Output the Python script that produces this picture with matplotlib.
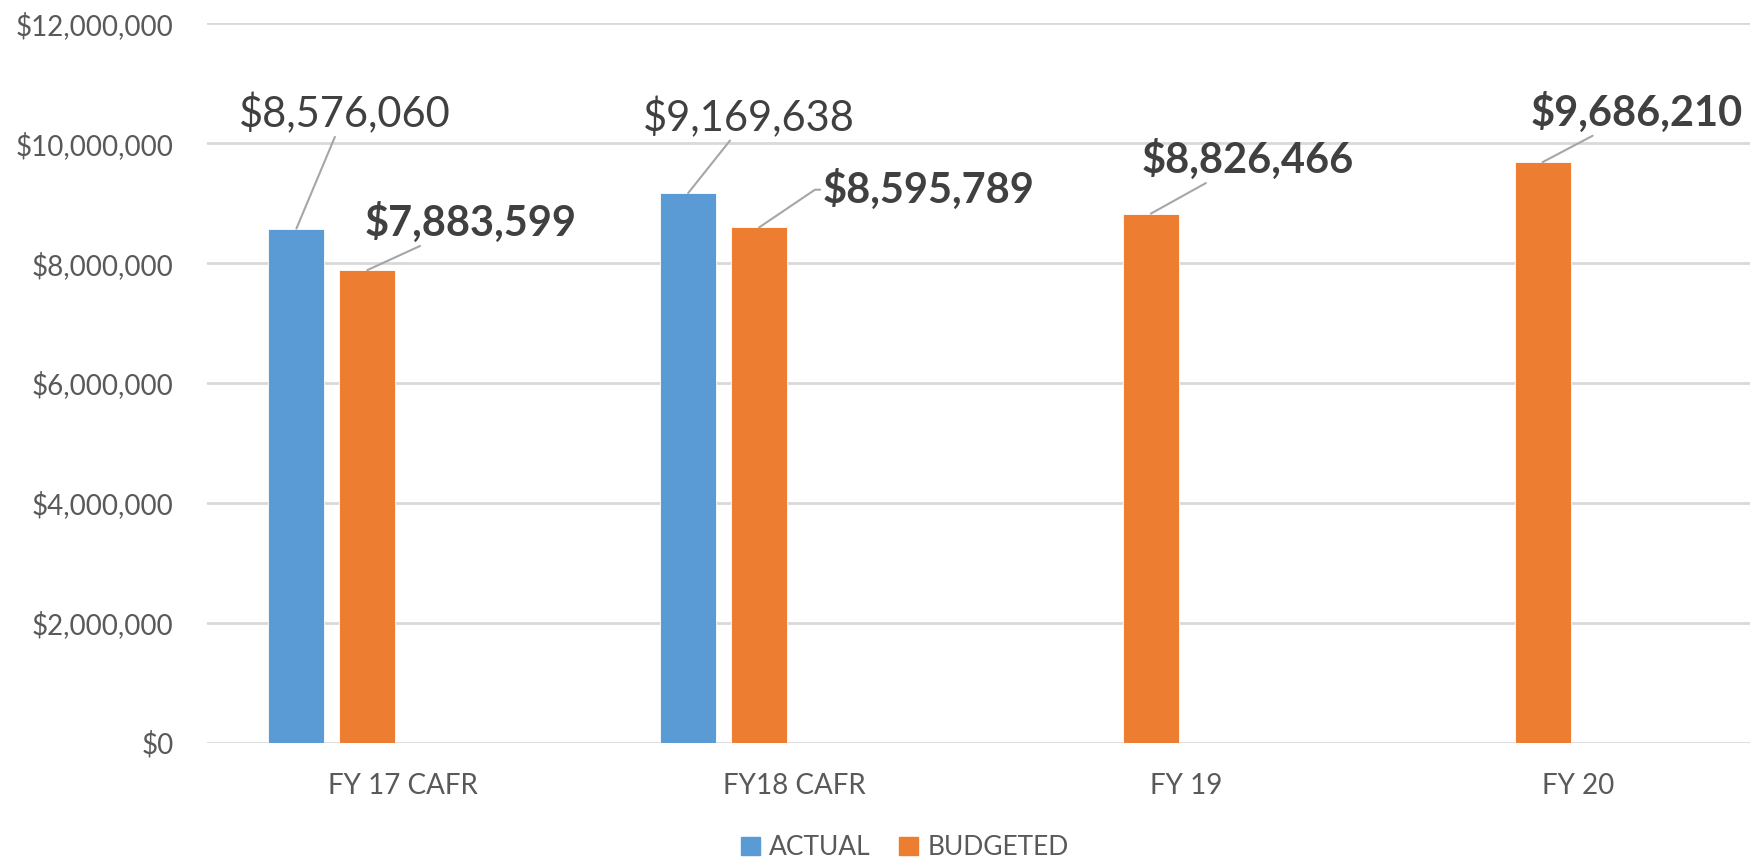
import matplotlib.pyplot as plt
from matplotlib.patches import Patch
from matplotlib.ticker import FuncFormatter, MultipleLocator

categories = ["FY 17 CAFR", "FY18 CAFR", "FY 19", "FY 20"]
actual = [8576060, 9169638, None, None]
budgeted = [7883599, 8595789, 8826466, 9686210]

# label placement (text centre x in category units, baseline y in dollars)
actual_label_pos = [(-0.148, 10.27e6), (0.883, 10.21e6)]
budget_label_pos = [(0.174, 8.45e6), (1.343, 9.00e6), (2.157, 9.50e6), (3.150, 10.29e6)]

blue = "#5B9BD5"
orange = "#ED7D31"
label_col = "#404040"
tick_col = "#595959"

plt.rcParams['font.family'] = ['Lato', 'DejaVu Sans']

fig = plt.figure(figsize=(17.5, 8.57), dpi=100)
ax = fig.add_axes([0.1182, 0.1336, 0.8955, 0.8390])

slot = 0.181
width = 0.143
x = list(range(len(categories)))

for i, v in enumerate(actual):
    if v is not None:
        ax.bar(i - 1.5 * slot, v, width, color=blue, edgecolor="white", linewidth=0.6, zorder=3)
for i, v in enumerate(budgeted):
    ax.bar(i - 0.5 * slot, v, width, color=orange, edgecolor="white", linewidth=0.6, zorder=3)

line_props = dict(arrowstyle="-", color="#a6a6a6", lw=1.5, shrinkA=0, shrinkB=0)

k = 0
for i, v in enumerate(actual):
    if v is None:
        continue
    tx, ty = actual_label_pos[k]
    k += 1
    ax.annotate(f"${v:,.0f}", xy=(i - 1.5 * slot, v), xytext=(tx, ty), textcoords="data",
                ha="center", va="baseline", fontsize=30, color=label_col,
                arrowprops=line_props, zorder=4)

for i, v in enumerate(budgeted):
    tx, ty = budget_label_pos[i]
    props = dict(line_props)
    if i == 1:
        props["connectionstyle"] = "arc,angleA=180,armA=8,angleB=0,armB=0,rad=0"
        props["relpos"] = (0, 0.5)
    ax.annotate(f"${v:,.0f}", xy=(i - 0.5 * slot, v), xytext=(tx, ty), textcoords="data",
                ha="center", va="baseline", fontsize=30, fontweight="bold", color=label_col,
                arrowprops=props, zorder=4)

ax.set_xlim(-0.5, 3.5)
ax.set_ylim(0, 12e6)
ax.yaxis.set_major_locator(MultipleLocator(2e6))
ax.yaxis.set_major_formatter(FuncFormatter(lambda v, p: f"${v:,.0f}"))
ax.set_xticks(x)
ax.set_xticklabels(categories)

ax.grid(axis="y", color="#d9d9d9", lw=2, zorder=0)
ax.set_axisbelow(True)
for s in ax.spines.values():
    s.set_visible(False)
ax.tick_params(axis="both", length=0, labelsize=20, colors=tick_col)
ax.tick_params(axis="y", pad=24)
ax.tick_params(axis="x", pad=22)

handles = [Patch(color=blue, label="ACTUAL"), Patch(color=orange, label="BUDGETED")]
fig.legend(handles=handles, loc="center", bbox_to_anchor=(0.517, 0.011), ncol=2,
           frameon=False, fontsize=19, labelcolor=tick_col, handlelength=0.7,
           handleheight=0.7, handletextpad=0.35, columnspacing=1.1,
           borderpad=0, borderaxespad=0)

fig.savefig("out.png", dpi=100)
